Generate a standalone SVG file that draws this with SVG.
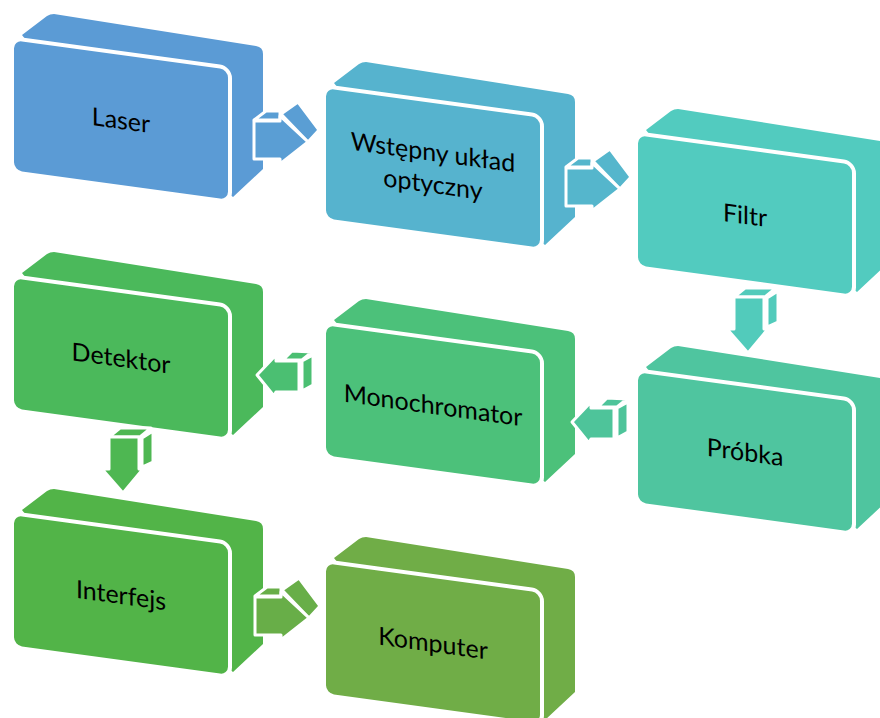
<svg xmlns="http://www.w3.org/2000/svg" xmlns:xlink="http://www.w3.org/1999/xlink" width="880" height="718" viewBox="0 0 880 718">
<style>
.face{stroke:#fff;stroke-width:4;stroke-linejoin:round}
.ext{stroke:none}
.arr{stroke:#fff;stroke-width:3;stroke-linejoin:round}
.ln{stroke:#fff;stroke-width:2.5;fill:none;stroke-linecap:round}
.lbl{font-family:Lato,"Liberation Sans",sans-serif;font-size:25px;fill:#000;text-anchor:middle}
</style>
<defs>
<path id="ext" class="ext" d="M10,-3 L35,-22 Q38,-24 42,-24 L244,8 Q251,9 251,16 L251,131 L221,159 L210,150 L20,10 Z"/>
<rect id="front" class="face" x="0" y="0" width="218" height="134" rx="10" transform="skewY(7.83)"/>
<g id="ra">
<polygon class="arr" points="4,21 16,12 30,12 30,21"/>
<polygon class="arr" points="31,15 48,3 69,31 58,43"/>
<polygon class="arr" points="4,22 30,22 30,17 58,43 30,65 30,60 4,60"/>
<line class="ln" x1="46" y1="60" x2="58" y2="50"/>
</g>
<g id="da">
<polygon class="arr" points="14,18 25,9 56,9 45,18"/>
<polygon class="arr" points="47,19 58,12 58,43 47,48"/>
<polygon class="arr" points="14,18 44,18 44,50 48,50 28,74 7,50 14,50"/>
<line class="ln" x1="53" y1="48" x2="63" y2="44"/>
</g>
<g id="la">
<polygon class="arr" points="38,28 47,19 67,20 57,28"/>
<polygon class="arr" points="57,29 68,23 68,53 57,59"/>
<polygon class="arr" points="12,43 31,23 31,29 54,29 54,60 31,60 29,64"/>
<line class="ln" x1="36" y1="15" x2="43" y2="12"/>
</g>
</defs>

<g id="laser" transform="translate(12,38)" fill="#5B9BD5">
<use xlink:href="#ext"/><use xlink:href="#front"/>
<text class="lbl" transform="skewY(7.83)" x="109" y="76">Laser</text>
</g>
<g id="wstepny" transform="translate(324,86)" fill="#56B3CE">
<use xlink:href="#ext"/><use xlink:href="#front"/>
<text class="lbl" transform="skewY(7.83)" x="109" y="60">Wstępny układ</text>
<text class="lbl" transform="skewY(7.83)" x="109" y="92">optyczny</text>
</g>
<g id="filtr" transform="translate(636,133)" fill="#52CBBF">
<use xlink:href="#ext"/><use xlink:href="#front"/>
<text class="lbl" transform="skewY(7.83)" x="109" y="76">Filtr</text>
</g>
<g id="detektor" transform="translate(12,276)" fill="#4BB95B">
<use xlink:href="#ext"/><use xlink:href="#front"/>
<text class="lbl" transform="skewY(7.83)" x="109" y="76">Detektor</text>
</g>
<g id="monochromator" transform="translate(324,323)" fill="#4CC17A">
<use xlink:href="#ext"/><use xlink:href="#front"/>
<text class="lbl" transform="skewY(7.83)" x="109" y="76">Monochromator</text>
</g>
<g id="probka" transform="translate(636,370)" fill="#4FC59F">
<use xlink:href="#ext"/><use xlink:href="#front"/>
<text class="lbl" transform="skewY(7.83)" x="109" y="76">Próbka</text>
</g>
<g id="interfejs" transform="translate(12,513)" fill="#52B448">
<use xlink:href="#ext"/><use xlink:href="#front"/>
<text class="lbl" transform="skewY(7.83)" x="109" y="76">Interfejs</text>
</g>
<g id="komputer" transform="translate(324,561)" fill="#70AD47">
<use xlink:href="#ext"/><use xlink:href="#front"/>
<text class="lbl" transform="skewY(7.83)" x="109" y="76">Komputer</text>
</g>

<g id="connectors">
<use xlink:href="#ra" transform="translate(250,99)" fill="#5A9ED4"/>
<use xlink:href="#ra" transform="translate(562,146)" fill="#55B6CC"/>
<use xlink:href="#da" transform="translate(720,279)" fill="#52CBBB"/>
<use xlink:href="#la" transform="translate(560,379)" fill="#4EC49A"/>
<use xlink:href="#la" transform="translate(245,332)" fill="#4BBF72"/>
<use xlink:href="#da" transform="translate(95,419)" fill="#4EB752"/>
<use xlink:href="#ra" transform="translate(251,575)" fill="#68AE48"/>
</g>
</svg>
